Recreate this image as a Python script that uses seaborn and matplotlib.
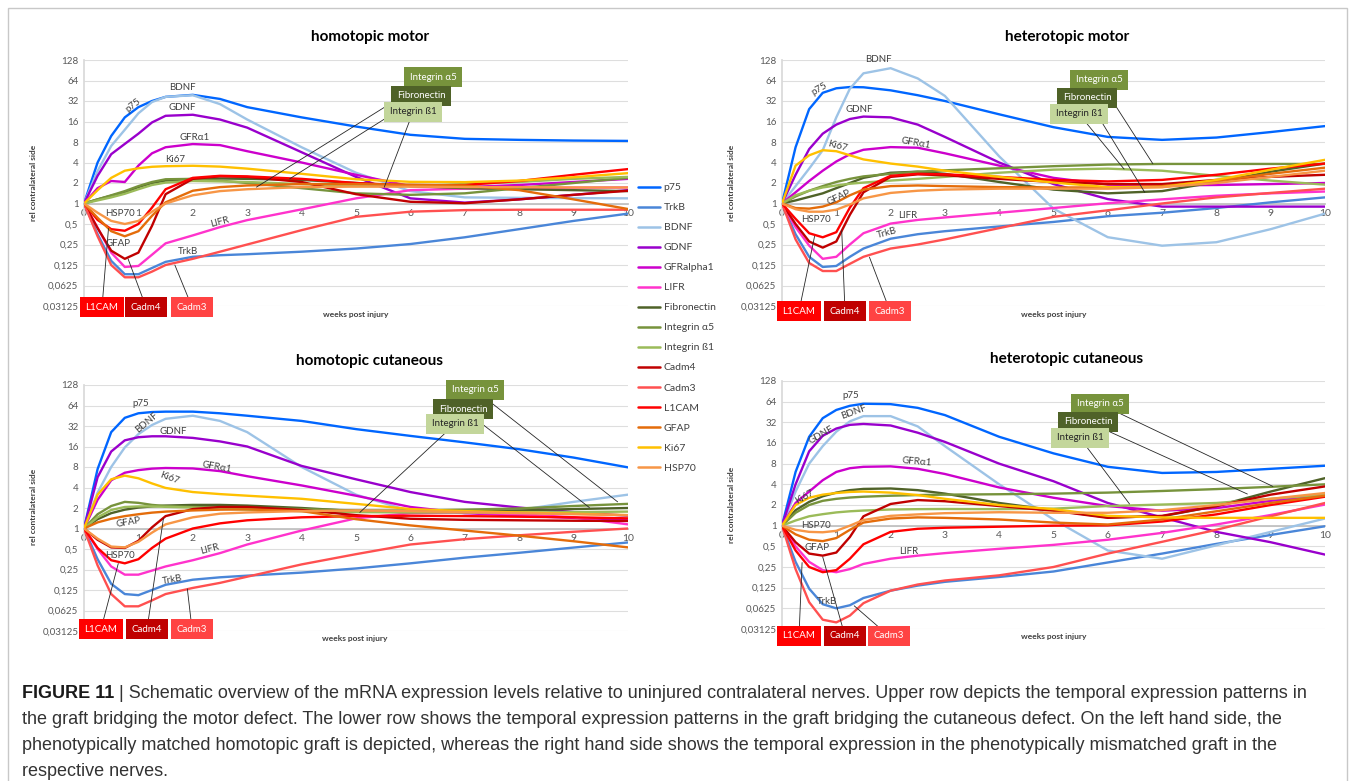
import numpy as np
import pandas as pd
import seaborn as sns
import matplotlib.pyplot as plt
from matplotlib.patches import Rectangle
from matplotlib.ticker import NullLocator

W, H = 1355, 781

# ── data (fold change vs. contralateral side) ─────────────────
weeks = [0, 0.25, 0.5, 0.75, 1, 1.25, 1.5, 2, 2.5, 3, 4, 5, 6, 7, 8, 9, 10]

genes = ["p75", "TrkB", "BDNF", "GDNF", "GFRalpha1", "LIFR", "Fibronectin",
         "Integrin α5", "Integrin ß1", "Cadm4", "Cadm3", "L1CAM", "GFAP", "Ki67", "HSP70"]
colors = ["#0066ff", "#4a86d8", "#9dc3e6", "#9900cc", "#cc00cc", "#ff33cc", "#4f6228",
          "#77933c", "#9bbb59", "#c00000", "#ff5050", "#ff0000", "#e46c0a", "#ffc000", "#f79646"]

y_ticks = [0.03125, 0.0625, 0.125, 0.25, 0.5, 1, 2, 4, 8, 16, 32, 64, 128]
y_tick_labels = ["0,03125", "0,0625", "0,125", "0,25", "0,5", "1", "2", "4", "8",
                 "16", "32", "64", "128"]
x_ticks = list(range(11))

homotopic_motor = {
    "p75": [1, 4, 9.8, 18.4, 26, 32, 36.8, 39.4, 34.3, 26, 18.4, 13.5, 10.2, 8.9, 8.6, 8.4, 8.3],
    "TrkB": [1, 0.354, 0.144, 0.0915, 0.0915, 0.113, 0.139, 0.165, 0.174, 0.18, 0.196, 0.218, 0.254, 0.319, 0.42, 0.555, 0.71],
    "BDNF": [1, 3.0, 7.0, 12.1, 21.1, 30.9, 36.8, 38.9, 28.8, 17.1, 6.7, 2.83, 1.52, 1.23, 1.21, 1.2, 1.19],
    "GDNF": [1, 2.55, 5.3, 7.5, 10.6, 15.5, 19.4, 20.1, 17.1, 13, 5.66, 2.46, 1.19, 1.03, 1.15, 1.34, 1.57],
    "GFRalpha1": [1, 1.68, 2.14, 2.07, 3.6, 5.46, 6.7, 7.46, 7.2, 5.86, 4, 2.64, 1.8, 1.74, 1.87, 2.07, 2.3],
    "LIFR": [1, 0.44, 0.19, 0.117, 0.121, 0.177, 0.26, 0.34, 0.45, 0.57, 0.82, 1.19, 1.57, 1.65, 1.68, 1.71, 1.72],
    "Fibronectin": [1, 1.15, 1.3, 1.46, 1.74, 2.0, 2.17, 2.3, 2.33, 2.3, 2.22, 2.0, 1.8, 1.68, 1.62, 1.57, 1.52],
    "Integrin α5": [1, 1.15, 1.32, 1.52, 1.8, 2.07, 2.27, 2.3, 2.17, 2.0, 1.68, 1.41, 1.34, 1.41, 1.68, 2.0, 2.38],
    "Integrin ß1": [1, 1.11, 1.23, 1.39, 1.62, 1.87, 2.03, 2.14, 2.11, 2.07, 1.93, 1.8, 1.8, 1.93, 2.07, 2.3, 2.46],
    "Cadm4": [1, 0.435, 0.203, 0.154, 0.19, 0.47, 1.37, 2.3, 2.51, 2.46, 2.07, 1.37, 1.06, 1.01, 1.15, 1.34, 1.54],
    "Cadm3": [1, 0.33, 0.125, 0.0825, 0.0825, 0.1, 0.125, 0.154, 0.196, 0.25, 0.406, 0.637, 0.758, 0.8, 0.81, 0.81, 0.81],
    "L1CAM": [1, 0.574, 0.42, 0.398, 0.5, 0.87, 1.62, 2.38, 2.55, 2.5, 2.3, 2.0, 1.84, 1.87, 2.14, 2.64, 3.2],
    "GFAP": [1, 0.616, 0.392, 0.33, 0.392, 0.66, 1.04, 1.54, 1.74, 1.84, 1.93, 1.93, 1.89, 1.84, 1.57, 1.15, 0.83],
    "Ki67": [1, 1.57, 2.38, 3.03, 3.29, 3.46, 3.53, 3.58, 3.48, 3.25, 2.73, 2.27, 2.08, 2.06, 2.17, 2.43, 2.79],
    "HSP70": [1, 0.732, 0.555, 0.5, 0.555, 0.758, 1.0, 1.32, 1.52, 1.62, 1.74, 1.77, 1.77, 1.74, 1.74, 1.72, 1.72],
}

heterotopic_motor = {
    "p75": [1, 6.7, 24.3, 42.2, 49.2, 51.3, 50.9, 45.9, 38.9, 32, 20.4, 13.2, 9.5, 8.6, 9.3, 11.2, 13.7],
    "TrkB": [1, 0.354, 0.165, 0.117, 0.121, 0.165, 0.218, 0.304, 0.354, 0.392, 0.46, 0.536, 0.65, 0.732, 0.858, 1.04, 1.23],
    "BDNF": [1, 1.8, 3.25, 6.06, 18.4, 48.5, 81.6, 97, 68.6, 38, 4.92, 0.84, 0.32, 0.24, 0.27, 0.42, 0.71],
    "GDNF": [1, 2.64, 6.28, 10.6, 14.4, 17.4, 18.9, 18.4, 14.4, 9.5, 4, 1.93, 1.16, 0.9, 0.9, 0.9, 0.9],
    "GFRalpha1": [1, 1.46, 2.14, 3.03, 4.14, 5.28, 6.15, 6.73, 6.59, 5.46, 3.6, 2.38, 1.89, 1.84, 1.87, 1.93, 2.0],
    "LIFR": [1, 0.45, 0.241, 0.154, 0.165, 0.25, 0.366, 0.507, 0.574, 0.624, 0.732, 0.858, 1.01, 1.15, 1.3, 1.41, 1.5],
    "Fibronectin": [1, 1.11, 1.25, 1.41, 1.68, 2.0, 2.38, 2.83, 2.93, 2.73, 2.07, 1.6, 1.41, 1.52, 2.07, 2.93, 3.86],
    "Integrin α5": [1, 1.27, 1.54, 1.8, 2.07, 2.3, 2.5, 2.73, 2.93, 3.07, 3.29, 3.53, 3.73, 3.81, 3.81, 3.81, 3.81],
    "Integrin ß1": [1, 1.32, 1.54, 1.72, 1.84, 1.95, 2.03, 2.17, 2.3, 2.46, 2.83, 3.14, 3.25, 3.03, 2.55, 2.17, 1.89],
    "Cadm4": [1, 0.5, 0.277, 0.225, 0.277, 0.683, 1.46, 2.46, 2.68, 2.6, 2.3, 2.07, 1.93, 1.93, 2.22, 2.46, 2.64],
    "Cadm3": [1, 0.297, 0.134, 0.102, 0.102, 0.13, 0.165, 0.218, 0.25, 0.297, 0.435, 0.637, 0.795, 1.0, 1.23, 1.43, 1.65],
    "L1CAM": [1, 0.595, 0.366, 0.319, 0.379, 0.87, 1.68, 2.55, 2.73, 2.68, 2.46, 2.22, 2.11, 2.22, 2.64, 3.25, 3.86],
    "GFAP": [1, 0.858, 0.84, 0.9, 1.04, 1.32, 1.6, 1.8, 1.84, 1.8, 1.74, 1.72, 1.72, 1.8, 2.14, 2.73, 3.36],
    "Ki67": [1, 3.6, 5.1, 6.06, 5.86, 5.1, 4.44, 3.86, 3.48, 3.03, 2.46, 2.03, 1.74, 1.74, 2.22, 3.14, 4.38],
    "HSP70": [1, 0.824, 0.758, 0.758, 0.812, 0.966, 1.19, 1.43, 1.54, 1.6, 1.65, 1.65, 1.65, 1.74, 2.0, 2.46, 3.03],
}

homotopic_cutaneous = {
    "p75": [1, 7.46, 26, 42.2, 49.2, 51.3, 52, 52, 49.2, 45.3, 38, 28.8, 22.9, 18.4, 14.6, 11, 7.9],
    "TrkB": [1, 0.354, 0.154, 0.109, 0.105, 0.125, 0.149, 0.177, 0.192, 0.203, 0.225, 0.259, 0.308, 0.373, 0.44, 0.525, 0.624],
    "BDNF": [1, 3.36, 8, 15.5, 24.3, 33.1, 40.8, 45.3, 38, 26, 8, 3.14, 1.8, 1.68, 1.87, 2.46, 3.14],
    "GDNF": [1, 5.66, 13.5, 19.7, 21.9, 22.6, 22.6, 21.4, 19, 16, 8.3, 5.28, 3.43, 2.46, 2.03, 1.74, 1.54],
    "GFRalpha1": [1, 2.64, 5.1, 6.59, 7.2, 7.57, 7.73, 7.62, 6.96, 5.86, 4.29, 3.03, 2.07, 1.68, 1.54, 1.43, 1.32],
    "LIFR": [1, 0.5, 0.277, 0.21, 0.21, 0.241, 0.277, 0.342, 0.435, 0.582, 0.933, 1.41, 1.68, 1.72, 1.62, 1.46, 1.15],
    "Fibronectin": [1, 1.37, 1.68, 1.89, 2.03, 2.11, 2.17, 2.22, 2.22, 2.17, 2.0, 1.8, 1.74, 1.77, 1.84, 1.93, 2.0],
    "Integrin α5": [1, 1.62, 2.14, 2.46, 2.38, 2.22, 2.14, 2.07, 2.03, 2.0, 1.93, 1.84, 1.84, 1.89, 1.97, 2.14, 2.3],
    "Integrin ß1": [1, 1.46, 1.87, 2.07, 2.11, 2.11, 2.08, 2.03, 1.96, 1.89, 1.8, 1.74, 1.72, 1.72, 1.72, 1.74, 1.77],
    "Cadm4": [1, 0.683, 0.528, 0.518, 0.66, 1.04, 1.52, 1.93, 2.07, 2.07, 1.87, 1.57, 1.39, 1.34, 1.32, 1.3, 1.29],
    "Cadm3": [1, 0.287, 0.109, 0.072, 0.072, 0.088, 0.109, 0.134, 0.159, 0.196, 0.297, 0.42, 0.582, 0.697, 0.795, 0.895, 1.0],
    "L1CAM": [1, 0.518, 0.342, 0.308, 0.354, 0.518, 0.71, 1.0, 1.19, 1.32, 1.46, 1.52, 1.54, 1.52, 1.49, 1.46, 1.41],
    "GFAP": [1, 1.23, 1.39, 1.52, 1.62, 1.71, 1.77, 1.84, 1.89, 1.91, 1.8, 1.37, 1.11, 0.933, 0.785, 0.65, 0.528],
    "Ki67": [1, 3.14, 5.28, 5.98, 5.46, 4.59, 3.94, 3.43, 3.2, 3.03, 2.73, 2.3, 1.93, 1.8, 1.72, 1.65, 1.57],
    "HSP70": [1, 0.71, 0.543, 0.528, 0.637, 0.87, 1.15, 1.46, 1.65, 1.72, 1.8, 1.84, 1.8, 1.74, 1.68, 1.62, 1.57],
}

heterotopic_cutaneous = {
    "p75": [1, 6.06, 19.7, 36.8, 48.5, 55.7, 59.7, 58.9, 52, 40.8, 19.7, 11.3, 7.2, 5.86, 6.06, 6.73, 7.46],
    "TrkB": [1, 0.297, 0.121, 0.0718, 0.0625, 0.0693, 0.0884, 0.113, 0.134, 0.152, 0.179, 0.215, 0.291, 0.392, 0.543, 0.732, 0.98],
    "BDNF": [1, 3.14, 8, 14.4, 23.4, 33.1, 39.4, 39.4, 27.9, 14.4, 4, 1.23, 0.435, 0.33, 0.518, 0.812, 1.27],
    "GDNF": [1, 4, 12.1, 20.4, 26, 29.4, 30.3, 28.8, 22.6, 16.6, 8, 4.44, 2.14, 1.32, 0.812, 0.574, 0.379],
    "GFRalpha1": [1, 2.14, 3.14, 4.59, 6.06, 6.87, 7.2, 7.31, 6.73, 5.66, 3.6, 2.55, 1.93, 1.65, 1.8, 2.3, 2.73],
    "LIFR": [1, 0.5, 0.297, 0.225, 0.21, 0.233, 0.277, 0.33, 0.366, 0.398, 0.46, 0.525, 0.624, 0.785, 1.04, 1.43, 2.03],
    "Fibronectin": [1, 1.68, 2.22, 2.68, 3.03, 3.29, 3.43, 3.48, 3.29, 2.93, 2.14, 1.68, 1.32, 1.37, 1.93, 3.14, 4.92],
    "Integrin α5": [1, 1.54, 2.0, 2.3, 2.46, 2.57, 2.64, 2.73, 2.79, 2.83, 2.87, 2.93, 3.03, 3.2, 3.41, 3.68, 4.0],
    "Integrin ß1": [1, 1.19, 1.37, 1.47, 1.56, 1.62, 1.66, 1.72, 1.74, 1.75, 1.74, 1.77, 1.93, 2.03, 2.14, 2.46, 2.83],
    "Cadm4": [1, 0.574, 0.392, 0.366, 0.406, 0.683, 1.37, 2.07, 2.36, 2.27, 1.93, 1.65, 1.3, 1.39, 1.93, 2.83, 3.73],
    "Cadm3": [1, 0.233, 0.0769, 0.0427, 0.039, 0.049, 0.0743, 0.113, 0.139, 0.159, 0.189, 0.25, 0.392, 0.582, 0.871, 1.37, 2.14],
    "L1CAM": [1, 0.435, 0.25, 0.21, 0.225, 0.33, 0.536, 0.812, 0.901, 0.933, 0.966, 1.0, 1.01, 1.15, 1.46, 2.0, 2.64],
    "GFAP": [1, 0.747, 0.624, 0.595, 0.66, 0.87, 1.11, 1.27, 1.32, 1.3, 1.23, 1.11, 1.04, 1.23, 1.62, 2.14, 2.73],
    "Ki67": [1, 2.0, 2.55, 2.83, 2.99, 3.1, 3.14, 3.03, 2.79, 2.46, 2.0, 1.74, 1.39, 1.32, 1.3, 1.3, 1.3],
    "HSP70": [1, 0.87, 0.812, 0.801, 0.841, 1.0, 1.21, 1.39, 1.46, 1.52, 1.57, 1.54, 1.54, 1.68, 2.0, 2.46, 2.99],
}

# ── layout (reference pixels, y from top) ─────────────────────
def fxy(px, py):
    return px / W, 1 - py / H

RED_BOX = {"L1CAM": "#ff0000", "Cadm4": "#c00000", "Cadm3": "#ff4343"}
GREEN_BOX = {"Integrin α5": ("#77933c", "white"), "Fibronectin": ("#4f6228", "white"),
             "Integrin ß1": ("#c3d69b", "#262626")}

panels = [
    dict(data=homotopic_motor, title="homotopic motor", rect=(84, 60, 544, 246),
         title_xy=(370, 37), xlab_xy=(356, 314), ylab_xy=(34, 183),
         words=[("p75", 133, 105, 38), ("BDNF", 182, 87, 0), ("GDNF", 182, 108, 0),
                ("GFRα1", 195, 137, 0), ("Ki67", 175, 159, 0), ("HSP70", 120, 214, 0),
                ("GFAP", 118, 243, 0), ("LIFR", 220, 222, 15), ("TrkB", 188, 251, 0)],
         boxes=[("L1CAM", 102, 307, 0.45, 0.43), ("Cadm4", 146, 307, 0.81, 0.154),
                ("Cadm3", 192, 307, 1.67, 0.125), ("Integrin α5", 433, 77, 3.17, 1.74),
                ("Fibronectin", 421, 96, 3.78, 2.3), ("Integrin ß1", 413, 112, 5.52, 1.74)]),
    dict(data=heterotopic_motor, title="heterotopic motor", rect=(782, 60, 543, 246),
         title_xy=(1067, 37), xlab_xy=(1054, 314), ylab_xy=(731, 183),
         words=[("BDNF", 878, 60, 0), ("p75", 819, 89, 30), ("GDNF", 859, 109, 0),
                ("Ki67", 837, 146, -15), ("GFRα1", 916, 143, -10), ("GFAP", 839, 197, 25),
                ("HSP70", 816, 219, 0), ("LIFR", 908, 215, 0), ("TrkB", 887, 233, 15)],
         boxes=[("L1CAM", 799, 311, 0.6, 0.33), ("Cadm4", 845, 311, 1.1, 0.4),
                ("Cadm3", 890, 311, 1.61, 0.163), ("Integrin α5", 1099, 80, 6.83, 3.83),
                ("Fibronectin", 1087, 98, 6.68, 1.46), ("Integrin ß1", 1079, 114, 6.3, 3.2)]),
    dict(data=homotopic_cutaneous, title="homotopic cutaneous", rect=(84, 385, 544, 246),
         title_xy=(370, 361), xlab_xy=(355, 638), ylab_xy=(34, 507),
         words=[("p75", 141, 403, 0), ("BDNF", 147, 423, 40), ("GDNF", 173, 431, 0),
                ("GFRα1", 217, 467, -10), ("Ki67", 169, 478, -20), ("GFAP", 128, 522, 10),
                ("HSP70", 120, 555, 0), ("LIFR", 210, 549, 15), ("TrkB", 172, 580, 10)],
         boxes=[("L1CAM", 101, 629, 0.63, 0.306), ("Cadm4", 147, 629, 1.46, 1.4),
                ("Cadm3", 192, 629, 1.9, 0.13), ("Integrin α5", 475, 390, 9.81, 2.46),
                ("Fibronectin", 463, 409, 9.29, 2.03), ("Integrin ß1", 455, 424, 5.07, 1.72)]),
    dict(data=heterotopic_cutaneous, title="heterotopic cutaneous", rect=(782, 381, 543, 248),
         title_xy=(1067, 359), xlab_xy=(1054, 636), ylab_xy=(731, 505),
         words=[("p75", 851, 396, 0), ("BDNF", 854, 412, 20), ("GDNF", 821, 435, 30),
                ("GFRα1", 917, 462, -5), ("Ki67", 805, 497, 30), ("HSP70", 816, 526, 0),
                ("GFAP", 817, 547, 0), ("LIFR", 909, 551, 0), ("TrkB", 827, 602, 0)],
         boxes=[("L1CAM", 799, 636, 0.37, 0.29), ("Cadm4", 845, 636, 0.75, 0.35),
                ("Cadm3", 889, 636, 1.33, 0.068), ("Integrin α5", 1100, 404, 9.04, 3.73),
                ("Fibronectin", 1088, 422, 8.57, 2.89), ("Integrin ß1", 1080, 438, 6.4, 2.07)]),
]

# ── figure ────────────────────────────────────────────────────
sns.set_theme(style="white")
plt.rcParams["font.family"] = ["Lato", "DejaVu Sans"]

fig = plt.figure(figsize=(W / 100, H / 100), dpi=100)
fig.patches.append(Rectangle((8 / W, -0.05), (1347 - 8) / W, 1.05 - 8 / H,
                             transform=fig.transFigure, fill=False,
                             ec="#c8c8c8", lw=1))

palette = dict(zip(genes, colors))
handles, labels = None, None

for i, p in enumerate(panels):
    x0, ytop, w, h = p["rect"]
    ax = fig.add_axes([x0 / W, 1 - (ytop + h) / H, w / W, h / H])

    df = pd.DataFrame({
        "week": weeks * len(genes),
        "gene": np.repeat(genes, len(weeks)),
        "value": np.concatenate([p["data"][g] for g in genes]),
    })
    sns.lineplot(data=df, x="week", y="value", hue="gene", hue_order=genes,
                 palette=palette, linewidth=1.7, ax=ax, legend=(i == 0))
    for ln in ax.lines:
        ln.set_zorder(3)
        ln.set_solid_joinstyle("round")
    if i == 0:
        handles, labels = ax.get_legend_handles_labels()
        ax.get_legend().remove()

    ax.set_yscale("log", base=2)
    ax.set_ylim(2 ** -5, 2 ** 7)
    ax.set_xlim(0, 10)
    ax.set_yticks(y_ticks)
    ax.set_yticklabels(y_tick_labels)
    ax.yaxis.set_minor_locator(NullLocator())
    ax.set_xticks(x_ticks)
    ax.set_xticklabels([str(t) for t in x_ticks])
    ax.set_xlabel("")
    ax.set_ylabel("")
    ax.set_axisbelow(True)
    ax.yaxis.grid(True, color="#dedede", lw=0.8)
    ax.xaxis.grid(False)
    ax.set_facecolor("none")

    for s in ["top", "right"]:
        ax.spines[s].set_visible(False)
    ax.spines["left"].set_color("#d9d9d9")
    ax.spines["bottom"].set_color("#bfbfbf")
    ax.spines["bottom"].set_position(("data", 1))
    ax.tick_params(axis="y", length=0, labelsize=7, labelcolor="#595959", pad=4)
    ax.tick_params(axis="x", length=3, width=0.8, color="#bfbfbf", labelsize=7.5,
                   labelcolor="#595959", pad=1, direction="out")

    fig.text(*fxy(*p["title_xy"]), p["title"], ha="center", va="center",
             fontsize=11, fontweight="bold", color="black")
    fig.text(*fxy(*p["xlab_xy"]), "weeks post injury", ha="center", va="center",
             fontsize=6, fontweight="bold", color="#404040")
    fig.text(*fxy(*p["ylab_xy"]), "rel contralateral side", ha="center", va="center",
             rotation=90, fontsize=6, fontweight="bold", color="#404040")

    for txt, px, py, rot in p["words"]:
        fig.text(*fxy(px, py), txt, ha="center", va="center", rotation=rot,
                 fontsize=7, color="#404040")

    for txt, px, py, wk, val in p["boxes"]:
        if txt in RED_BOX:
            fc, tc = RED_BOX[txt], "white"
        else:
            fc, tc = GREEN_BOX[txt]
        ax.annotate(txt, xy=(wk, val), xycoords="data",
                    xytext=(px, H - py), textcoords="figure pixels",
                    ha="center", va="center", fontsize=7, color=tc, zorder=6,
                    bbox=dict(boxstyle="square,pad=0.55", fc=fc, ec="none"),
                    arrowprops=dict(arrowstyle="-", color="#262626", lw=0.6,
                                    shrinkA=0, shrinkB=0),
                    annotation_clip=False)

# ── shared legend ─────────────────────────────────────────────
leg = fig.legend(handles, labels, loc="upper left", bbox_to_anchor=fxy(638, 183),
                 frameon=False, fontsize=7.5, handlelength=2.1, handletextpad=0.35,
                 labelspacing=1.03, borderaxespad=0, borderpad=0)
for t in leg.get_texts():
    t.set_color("#404040")
for ln in leg.get_lines():
    ln.set_linewidth(1.8)

# ── caption ───────────────────────────────────────────────────
cap_font = ["Liberation Sans", "DejaVu Sans"]
lines = [
    "Schematic overview of the mRNA expression levels relative to uninjured contralateral nerves. Upper row depicts the temporal expression patterns in",
    "the graft bridging the motor defect. The lower row shows the temporal expression patterns in the graft bridging the cutaneous defect. On the left hand side, the",
    "phenotypically matched homotopic graft is depicted, whereas the right hand side shows the temporal expression in the phenotypically mismatched graft in the",
    "respective nerves.",
]
head = fig.text(*fxy(22, 693), "FIGURE 11", ha="left", va="center", fontsize=13,
                fontweight="bold", color="#1a1a1a", family=cap_font)
ax.annotate(" | " + lines[0], xy=(1, 0.5), xycoords=head, ha="left", va="center",
            fontsize=13, color="#333333", family=cap_font, annotation_clip=False)
for k, line in enumerate(lines[1:]):
    fig.text(*fxy(22, 719 + 26 * k), line, ha="left", va="center", fontsize=13,
             color="#333333", family=cap_font)

fig.savefig("out.png", dpi=100)
